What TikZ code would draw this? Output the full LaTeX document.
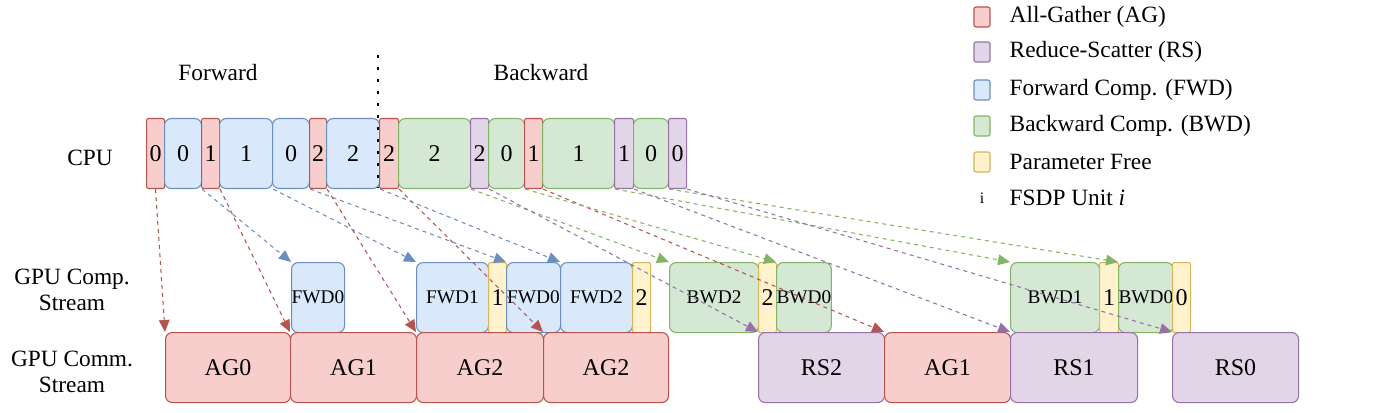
\documentclass[tikz,border=0pt]{standalone}
\usepackage{fontspec}
\setmainfont{Liberation Serif}
\usetikzlibrary{arrows.meta}
\definecolor{agfill}{HTML}{F8CECC}\definecolor{agdraw}{HTML}{B85450}
\definecolor{fwfill}{HTML}{DAE8FC}\definecolor{fwdraw}{HTML}{6C8EBF}
\definecolor{bwfill}{HTML}{D5E8D4}\definecolor{bwdraw}{HTML}{82B366}
\definecolor{rsfill}{HTML}{E1D5E7}\definecolor{rsdraw}{HTML}{9673A6}
\definecolor{frfill}{HTML}{FFF2CC}\definecolor{frdraw}{HTML}{D6B656}
% block: style, name, x1, x2, y1, text
\newcommand\blk[6]{\node[#1, minimum width={(#4-#3)*0.75pt}, anchor=north west] (#2) at (#3,#5) {#6};}

\begin{document}
\begin{tikzpicture}[x=0.75pt, y=-0.75pt,
    unit/.style={draw, thick, rounded corners=5pt, inner sep=0pt, minimum height=52.5pt, font=\fontsize{18}{18}\selectfont},
    narrow/.style={unit, rounded corners=1.5pt},
    ag/.style={fill=agfill, draw=agdraw}, rs/.style={fill=rsfill, draw=rsdraw},
    fw/.style={fill=fwfill, draw=fwdraw}, bw/.style={fill=bwfill, draw=bwdraw},
    fr/.style={fill=frfill, draw=frdraw},
    gpu/.style={font=\fontsize{14.5}{14.5}\selectfont},
    link/.style={dashed, thick, -{Triangle[length=9pt,width=8pt]}},
    lab/.style={font=\fontsize{17.5}{19}\selectfont, align=center}]
    \useasboundingbox (0,0) rectangle (1373,413);

    % CPU row
    \blk{narrow,ag}{c1}{146}{164}{118}{0}
    \blk{unit,fw}{c2}{164}{201}{118}{0}
    \blk{narrow,ag}{c3}{201}{219}{118}{1}
    \blk{unit,fw}{c4}{219}{272}{118}{1}
    \blk{unit,fw}{c5}{272}{309}{118}{0}
    \blk{narrow,ag}{c6}{309}{326}{118}{2}
    \blk{unit,fw}{c7}{326}{379}{118}{2}
    \blk{narrow,ag}{c8}{379}{398}{118}{2}
    \blk{unit,bw}{c9}{398}{470}{118}{2}
    \blk{narrow,rs}{c10}{470}{488}{118}{2}
    \blk{unit,bw}{c11}{488}{524}{118}{0}
    \blk{narrow,ag}{c12}{524}{542}{118}{1}
    \blk{unit,bw}{c13}{542}{614}{118}{1}
    \blk{narrow,rs}{c14}{614}{633}{118}{1}
    \blk{unit,bw}{c15}{633}{668}{118}{0}
    \blk{narrow,rs}{c16}{668}{686}{118}{0}

    % GPU computation stream
    \blk{unit,fw,gpu}{p1}{291}{344}{262}{FWD0}
    \blk{unit,fw,gpu}{p2}{416}{488}{262}{FWD1}
    \blk{narrow,fr}{p3}{488}{506}{262}{1}
    \blk{unit,fw,gpu}{p4}{506}{560}{262}{FWD0}
    \blk{unit,fw,gpu}{p5}{560}{632}{262}{FWD2}
    \blk{narrow,fr}{p6}{632}{650}{262}{2}
    \blk{unit,bw,gpu}{p7}{669}{758}{262}{BWD2}
    \blk{narrow,fr}{p8}{758}{776}{262}{2}
    \blk{unit,bw,gpu}{p9}{776}{830}{262}{BWD0}
    \blk{unit,bw,gpu}{p10}{1010}{1099}{262}{BWD1}
    \blk{narrow,fr}{p11}{1099}{1118}{262}{1}
    \blk{unit,bw,gpu}{p12}{1118}{1172}{262}{BWD0}
    \blk{narrow,fr}{p13}{1172}{1190}{262}{0}

    % GPU communication stream
    \blk{unit,ag}{m1}{165}{290}{332}{AG0}
    \blk{unit,ag}{m2}{290}{416}{332}{AG1}
    \blk{unit,ag}{m3}{416}{543}{332}{AG2}
    \blk{unit,ag}{m4}{543}{668}{332}{AG2}
    \blk{unit,rs}{m5}{758}{884}{332}{RS2}
    \blk{unit,ag}{m6}{884}{1010}{332}{AG1}
    \blk{unit,rs}{m7}{1010}{1137}{332}{RS1}
    \blk{unit,rs}{m8}{1172}{1298}{332}{RS0}

    % row labels
    \node[lab] (cpu) at (90,158) {CPU};
    \node[lab] (comp) at (72,290) {GPU Comp.\\Stream};
    \node[lab] (comm) at (72,372) {GPU Comm.\\Stream};
    \node[lab] (fwd) at (218,73) {Forward};
    \node[lab] (bwd) at (541,73) {Backward};
    \draw[line width=2pt, dash pattern=on 2pt off 7pt] (378,55) -- (378,188);

    % launches
    \draw[link, agdraw] (c1.south) -- (m1.north west);
    \draw[link, agdraw] (c3.south east) -- (m2.north west);
    \draw[link, agdraw] (c6.south east) -- (m3.north west);
    \draw[link, agdraw] (c8.south east) -- (m4.north west);
    \draw[link, agdraw] (c12.south east) -- (m6.north west);
    \draw[link, fwdraw] (c2.south east) -- (p1.north west);
    \draw[link, fwdraw] (c4.south east) -- (p2.north west);
    \draw[link, fwdraw] (c5.south east) -- (p4.north west);
    \draw[link, fwdraw] (c7.south east) -- (p5.north west);
    \draw[link, bwdraw] (c9.south east) -- (p7.north west);
    \draw[link, bwdraw] (c11.south east) -- (p9.north west);
    \draw[link, bwdraw] (c13.south east) -- (p10.north west);
    \draw[link, bwdraw] (c15.south east) -- (p12.north west);
    \draw[link, rsdraw] (c10.south east) -- (m5.north west);
    \draw[link, rsdraw] (c14.south east) -- (m7.north west);
    \draw[link, rsdraw] (c16.south east) -- (m8.north west);

    % legend
    \foreach \y/\s/\t [count=\i] in {17/ag/All-Gather (AG), 52/rs/Reduce-Scatter (RS), 90/fw/Forward Comp. (FWD), 126/bw/Backward Comp. (BWD), 162/fr/Parameter Free} {
        \node[draw, thick, \s, rounded corners=1.5pt, minimum width=12pt, minimum height=15pt] (k\i) at (982,\y) {};
        \node[anchor=west, font=\fontsize{17.5}{17.5}\selectfont] (t\i) at (1005,\y) {\t};
    }
    \node[font=\fontsize{12}{12}\selectfont] (k6) at (982,198) {i};
    \node[anchor=west, font=\fontsize{17.5}{17.5}\selectfont] (t6) at (1005,198) {FSDP Unit \textit{i}};
\end{tikzpicture}
\end{document}
